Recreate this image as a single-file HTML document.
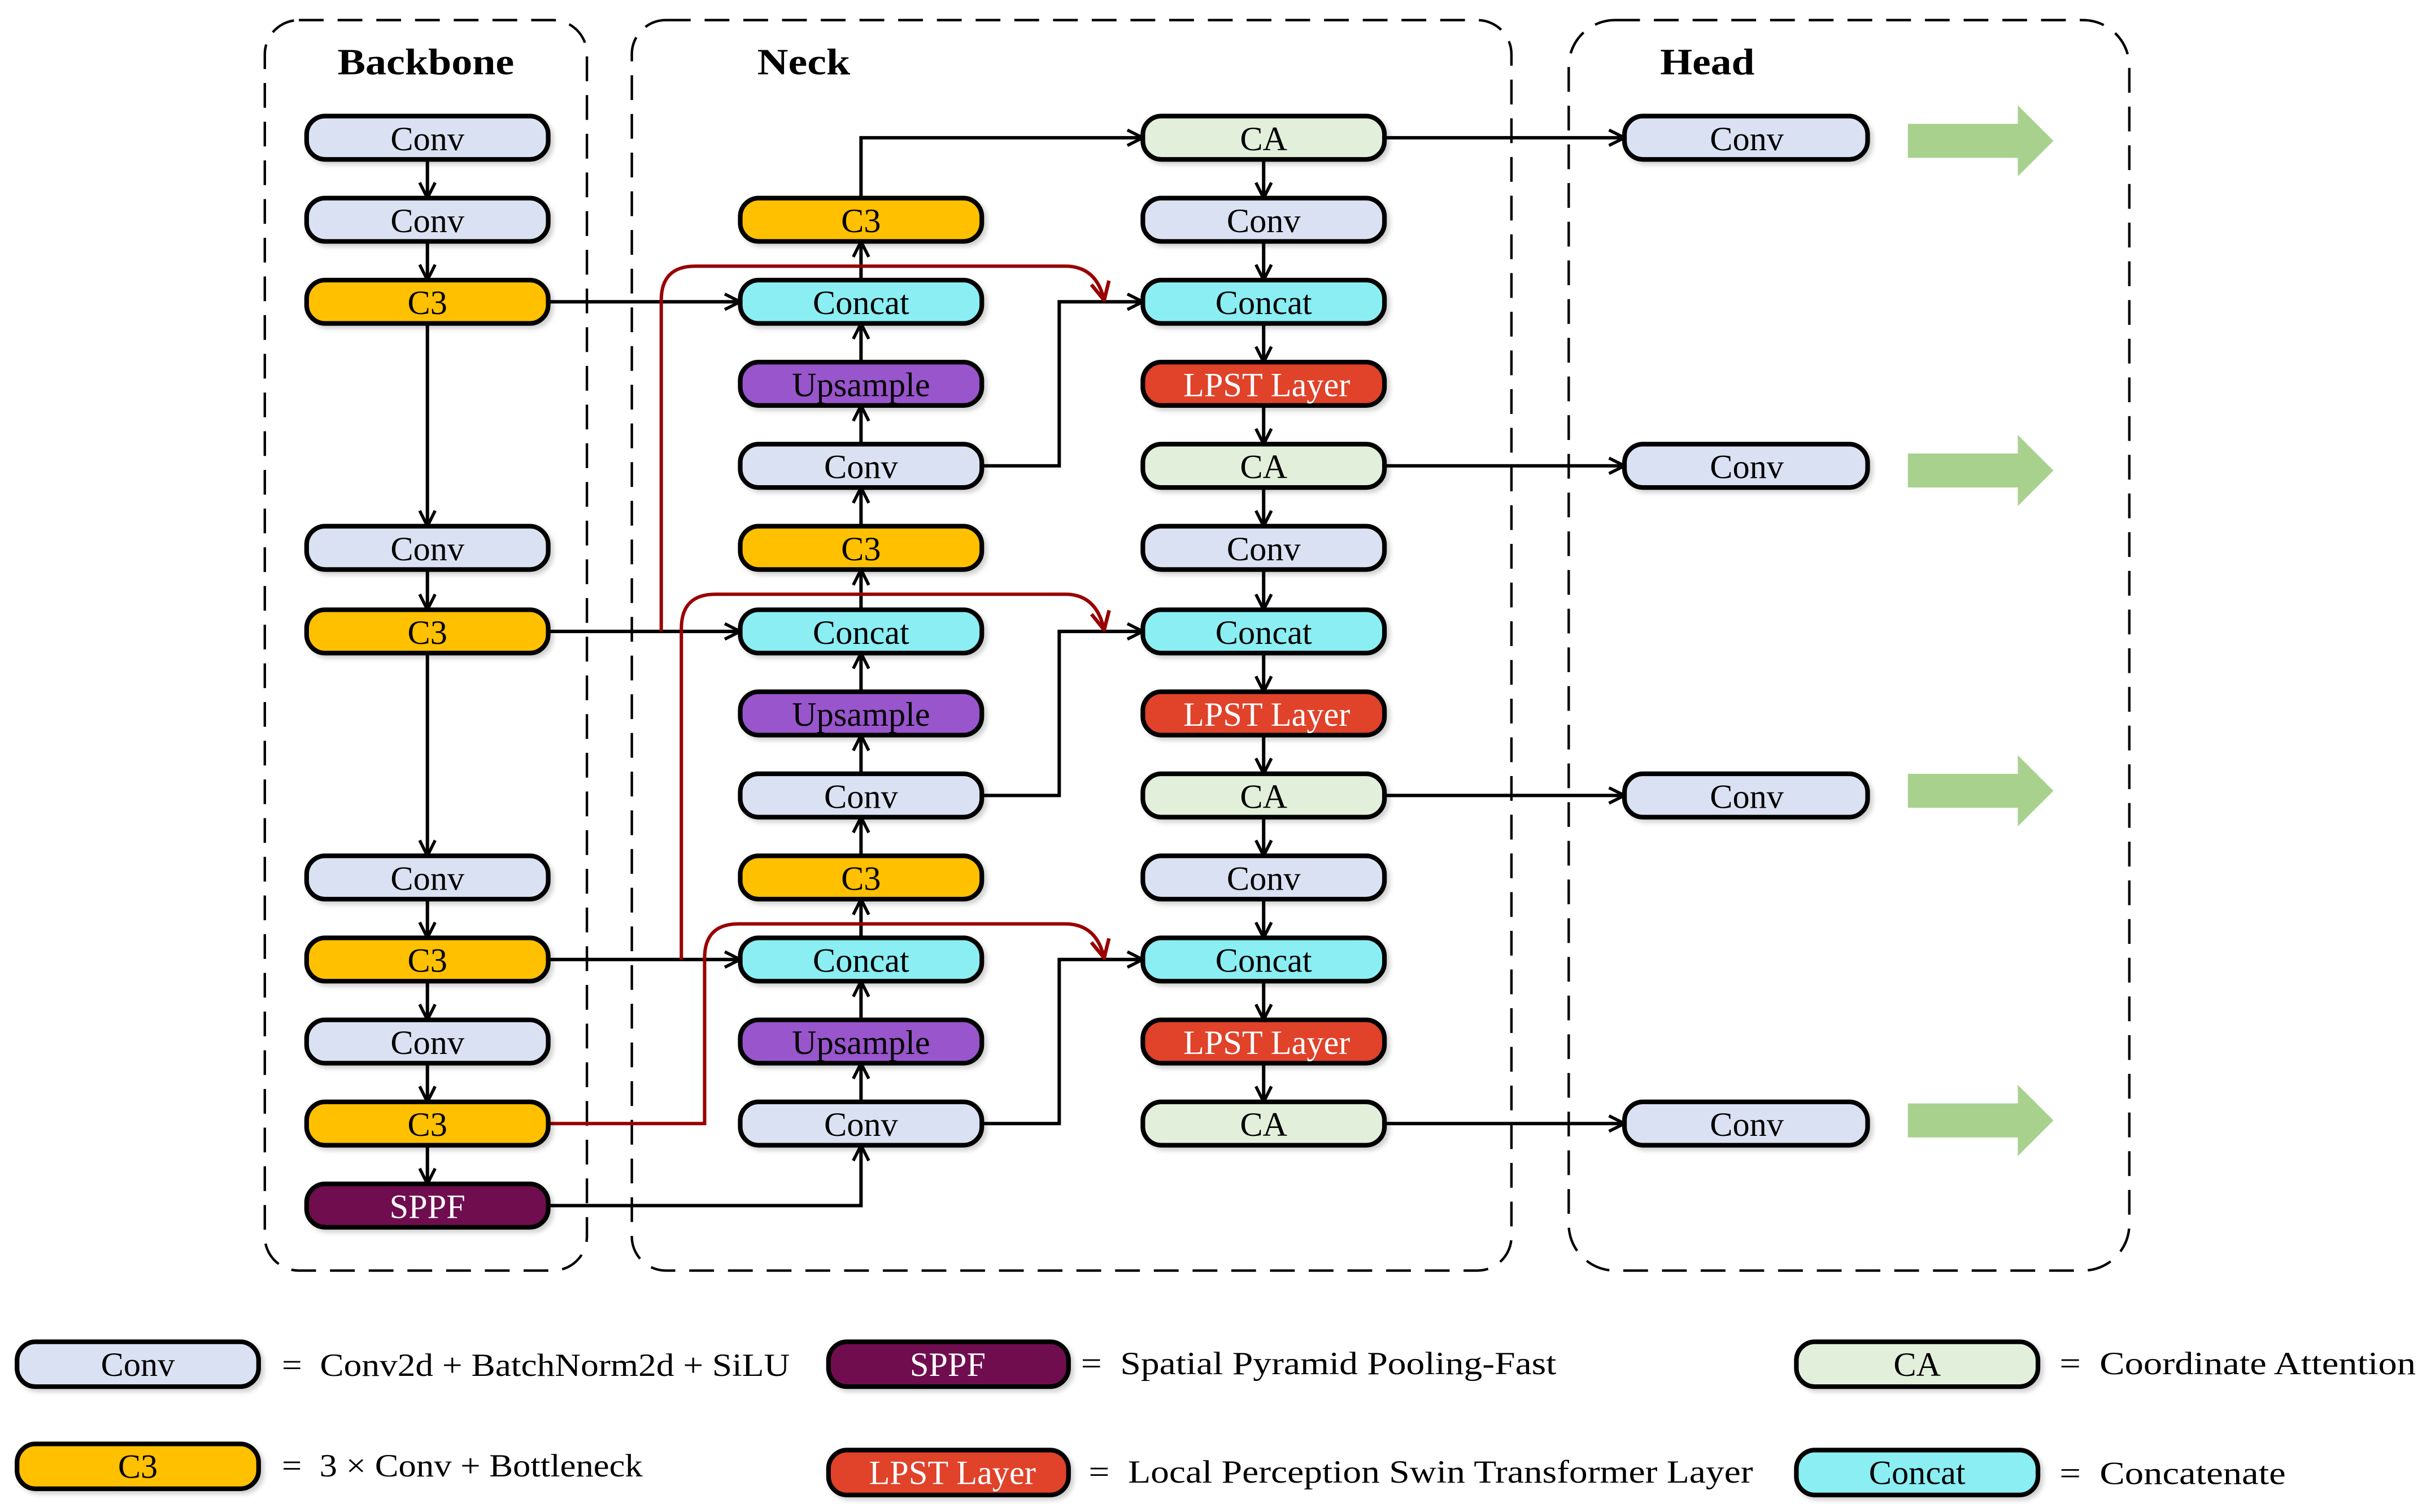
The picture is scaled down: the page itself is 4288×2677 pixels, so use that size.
<!DOCTYPE html>
<html><head><meta charset="utf-8">
<style>
html,body{margin:0;padding:0;background:#fff;}
svg{display:block;}
text{font-family:"Liberation Serif",serif;}
</style></head>
<body>
<svg width="4288" height="2677" viewBox="0 0 1564 977" preserveAspectRatio="none" xmlns="http://www.w3.org/2000/svg">
<defs>
<marker id="a" viewBox="0 0 12 12" refX="11" refY="6" markerWidth="12" markerHeight="12" markerUnits="userSpaceOnUse" orient="auto">
<path d="M1,1 L11,6 L1,11" fill="none" stroke="#000" stroke-width="2"/>
</marker>
<marker id="r" viewBox="0 0 12 12" refX="11" refY="6" markerWidth="14" markerHeight="14" markerUnits="userSpaceOnUse" orient="auto">
<path d="M1,1 L11,6 L1,11" fill="none" stroke="#990000" stroke-width="2"/>
</marker>
<filter id="sh" x="-10%" y="-30%" width="130%" height="170%">
<feDropShadow dx="2" dy="2" stdDeviation="1.5" flood-color="#000" flood-opacity="0.18"/>
</filter>
</defs>

<g fill="none" stroke="#000" stroke-width="1.6" stroke-dasharray="16,9">
<rect x="171" y="13" width="208" height="808" rx="22"/>
<rect x="408" y="13" width="568" height="808" rx="22"/>
<rect x="1013" y="13" width="362" height="808" rx="30"/>
</g>
<g font-weight="bold" font-size="24" fill="#000">
<text x="218" y="48" textLength="114" lengthAdjust="spacingAndGlyphs">Backbone</text>
<text x="489" y="48" textLength="60" lengthAdjust="spacingAndGlyphs">Neck</text>
<text x="1072" y="48" textLength="61" lengthAdjust="spacingAndGlyphs">Head</text>
</g>

<g fill="none" stroke="#000" stroke-width="2.2" marker-end="url(#a)">
<line x1="276" y1="103" x2="276" y2="128"/>
<line x1="276" y1="156" x2="276" y2="181"/>
<line x1="276" y1="209" x2="276" y2="340"/>
<line x1="276" y1="368" x2="276" y2="394"/>
<line x1="276" y1="422" x2="276" y2="553"/>
<line x1="276" y1="581" x2="276" y2="606"/>
<line x1="276" y1="634" x2="276" y2="659"/>
<line x1="276" y1="687" x2="276" y2="712"/>
<line x1="276" y1="740" x2="276" y2="765"/>
<line x1="354" y1="195" x2="478" y2="195"/>
<line x1="354" y1="408" x2="478" y2="408"/>
<line x1="354" y1="620" x2="478" y2="620"/>
<polyline points="354,779 556,779 556,740"/>
<line x1="556" y1="712" x2="556" y2="687"/>
<line x1="556" y1="659" x2="556" y2="634"/>
<line x1="556" y1="606" x2="556" y2="581"/>
<line x1="556" y1="553" x2="556" y2="528"/>
<line x1="556" y1="500" x2="556" y2="475"/>
<line x1="556" y1="447" x2="556" y2="422"/>
<line x1="556" y1="394" x2="556" y2="368"/>
<line x1="556" y1="340" x2="556" y2="315"/>
<line x1="556" y1="287" x2="556" y2="262"/>
<line x1="556" y1="234" x2="556" y2="209"/>
<line x1="556" y1="181" x2="556" y2="156"/>
<polyline points="556,128 556,89 738,89"/>
<polyline points="634,301 684,301 684,195 738,195"/>
<polyline points="634,514 684,514 684,408 738,408"/>
<polyline points="634,726 684,726 684,620 738,620"/>
<line x1="816" y1="103" x2="816" y2="128"/>
<line x1="816" y1="156" x2="816" y2="181"/>
<line x1="816" y1="209" x2="816" y2="234"/>
<line x1="816" y1="262" x2="816" y2="287"/>
<line x1="816" y1="315" x2="816" y2="340"/>
<line x1="816" y1="368" x2="816" y2="394"/>
<line x1="816" y1="422" x2="816" y2="447"/>
<line x1="816" y1="475" x2="816" y2="500"/>
<line x1="816" y1="528" x2="816" y2="553"/>
<line x1="816" y1="581" x2="816" y2="606"/>
<line x1="816" y1="634" x2="816" y2="659"/>
<line x1="816" y1="687" x2="816" y2="712"/>
<line x1="894" y1="89" x2="1049" y2="89"/>
<line x1="894" y1="301" x2="1049" y2="301"/>
<line x1="894" y1="514" x2="1049" y2="514"/>
<line x1="894" y1="726" x2="1049" y2="726"/>
</g>

<g fill="none" stroke="#990000" stroke-width="2.2" marker-end="url(#r)">
<path d="M427,408 V194 Q427,172 449,172 H688 Q708,172 713,194"/>
<path d="M440,620 V406 Q440,384 462,384 H688 Q708,384 713,407"/>
<path d="M354,726 H455 V619 Q455,597 477,597 H688 Q708,597 713,619"/>
</g>

<g stroke="#000" stroke-width="3" filter="url(#sh)">
<rect x="198" y="75" width="156" height="28" rx="12" fill="#dae1f2"/>
<rect x="198" y="128" width="156" height="28" rx="12" fill="#dae1f2"/>
<rect x="198" y="181" width="156" height="28" rx="12" fill="#ffc000"/>
<rect x="198" y="340" width="156" height="28" rx="12" fill="#dae1f2"/>
<rect x="198" y="394" width="156" height="28" rx="12" fill="#ffc000"/>
<rect x="198" y="553" width="156" height="28" rx="12" fill="#dae1f2"/>
<rect x="198" y="606" width="156" height="28" rx="12" fill="#ffc000"/>
<rect x="198" y="659" width="156" height="28" rx="12" fill="#dae1f2"/>
<rect x="198" y="712" width="156" height="28" rx="12" fill="#ffc000"/>
<rect x="198" y="765" width="156" height="28" rx="12" fill="#700f4f"/>
<rect x="478" y="128" width="156" height="28" rx="12" fill="#ffc000"/>
<rect x="478" y="181" width="156" height="28" rx="12" fill="#8aeef3"/>
<rect x="478" y="234" width="156" height="28" rx="12" fill="#9955cc"/>
<rect x="478" y="287" width="156" height="28" rx="12" fill="#dae1f2"/>
<rect x="478" y="340" width="156" height="28" rx="12" fill="#ffc000"/>
<rect x="478" y="394" width="156" height="28" rx="12" fill="#8aeef3"/>
<rect x="478" y="447" width="156" height="28" rx="12" fill="#9955cc"/>
<rect x="478" y="500" width="156" height="28" rx="12" fill="#dae1f2"/>
<rect x="478" y="553" width="156" height="28" rx="12" fill="#ffc000"/>
<rect x="478" y="606" width="156" height="28" rx="12" fill="#8aeef3"/>
<rect x="478" y="659" width="156" height="28" rx="12" fill="#9955cc"/>
<rect x="478" y="712" width="156" height="28" rx="12" fill="#dae1f2"/>
<rect x="738" y="75" width="156" height="28" rx="12" fill="#e2efda"/>
<rect x="738" y="128" width="156" height="28" rx="12" fill="#dae1f2"/>
<rect x="738" y="181" width="156" height="28" rx="12" fill="#8aeef3"/>
<rect x="738" y="234" width="156" height="28" rx="12" fill="#e0432a"/>
<rect x="738" y="287" width="156" height="28" rx="12" fill="#e2efda"/>
<rect x="738" y="340" width="156" height="28" rx="12" fill="#dae1f2"/>
<rect x="738" y="394" width="156" height="28" rx="12" fill="#8aeef3"/>
<rect x="738" y="447" width="156" height="28" rx="12" fill="#e0432a"/>
<rect x="738" y="500" width="156" height="28" rx="12" fill="#e2efda"/>
<rect x="738" y="553" width="156" height="28" rx="12" fill="#dae1f2"/>
<rect x="738" y="606" width="156" height="28" rx="12" fill="#8aeef3"/>
<rect x="738" y="659" width="156" height="28" rx="12" fill="#e0432a"/>
<rect x="738" y="712" width="156" height="28" rx="12" fill="#e2efda"/>
<rect x="1049" y="75" width="157" height="28" rx="12" fill="#dae1f2"/>
<rect x="1049" y="287" width="157" height="28" rx="12" fill="#dae1f2"/>
<rect x="1049" y="500" width="157" height="28" rx="12" fill="#dae1f2"/>
<rect x="1049" y="712" width="157" height="28" rx="12" fill="#dae1f2"/>
<rect x="11" y="867" width="156" height="29" rx="12" fill="#dae1f2"/>
<rect x="11" y="933" width="156" height="29" rx="12" fill="#ffc000"/>
<rect x="535" y="867" width="155" height="29" rx="12" fill="#700f4f"/>
<rect x="535" y="937" width="155" height="29" rx="12" fill="#e0432a"/>
<rect x="1160" y="867" width="156" height="29" rx="12" fill="#e2efda"/>
<rect x="1160" y="937" width="156" height="29" rx="12" fill="#8aeef3"/>
</g>

<g fill="#a9d18e">
<polygon points="1232,80 1303,80 1303,68 1326,91 1303,114 1303,102 1232,102"/>
<polygon points="1232,293 1303,293 1303,281 1326,304 1303,327 1303,315 1232,315"/>
<polygon points="1232,500 1303,500 1303,488 1326,511 1303,534 1303,522 1232,522"/>
<polygon points="1232,713 1303,713 1303,701 1326,724 1303,747 1303,735 1232,735"/>
</g>

<g font-size="22" text-anchor="middle" fill="#000">
<text x="276" y="97">Conv</text>
<text x="276" y="150">Conv</text>
<text x="276" y="203">C3</text>
<text x="276" y="362">Conv</text>
<text x="276" y="416">C3</text>
<text x="276" y="575">Conv</text>
<text x="276" y="628">C3</text>
<text x="276" y="681">Conv</text>
<text x="276" y="734">C3</text>
<text x="276" y="787" fill="#fff">SPPF</text>
<text x="556" y="150">C3</text>
<text x="556" y="203">Concat</text>
<text x="556" y="256">Upsample</text>
<text x="556" y="309">Conv</text>
<text x="556" y="362">C3</text>
<text x="556" y="416">Concat</text>
<text x="556" y="469">Upsample</text>
<text x="556" y="522">Conv</text>
<text x="556" y="575">C3</text>
<text x="556" y="628">Concat</text>
<text x="556" y="681">Upsample</text>
<text x="556" y="734">Conv</text>
<text x="816" y="97">CA</text>
<text x="816" y="150">Conv</text>
<text x="816" y="203">Concat</text>
<text x="818" y="256" fill="#fff">LPST Layer</text>
<text x="816" y="309">CA</text>
<text x="816" y="362">Conv</text>
<text x="816" y="416">Concat</text>
<text x="818" y="469" fill="#fff">LPST Layer</text>
<text x="816" y="522">CA</text>
<text x="816" y="575">Conv</text>
<text x="816" y="628">Concat</text>
<text x="818" y="681" fill="#fff">LPST Layer</text>
<text x="816" y="734">CA</text>
<text x="1128" y="97">Conv</text>
<text x="1128" y="309">Conv</text>
<text x="1128" y="522">Conv</text>
<text x="1128" y="734">Conv</text>
<text x="89" y="889">Conv</text>
<text x="89" y="955">C3</text>
<text x="612" y="889" fill="#fff">SPPF</text>
<text x="615" y="959" fill="#fff">LPST Layer</text>
<text x="1238" y="889">CA</text>
<text x="1238" y="959">Concat</text>
</g>

<g font-size="21" fill="#000">
<text x="182" y="889" textLength="328" lengthAdjust="spacingAndGlyphs">=&#160;&#160;Conv2d + BatchNorm2d + SiLU</text>
<text x="182" y="954" textLength="233" lengthAdjust="spacingAndGlyphs">=&#160;&#160;3 × Conv + Bottleneck</text>
<text x="698" y="888" textLength="307" lengthAdjust="spacingAndGlyphs">=&#160;&#160;Spatial Pyramid Pooling-Fast</text>
<text x="703" y="958" textLength="429" lengthAdjust="spacingAndGlyphs">=&#160;&#160;Local Perception Swin Transformer Layer</text>
<text x="1330" y="888" textLength="230" lengthAdjust="spacingAndGlyphs">=&#160;&#160;Coordinate Attention</text>
<text x="1330" y="959" textLength="146" lengthAdjust="spacingAndGlyphs">=&#160;&#160;Concatenate</text>
</g>
</svg>
</body></html>
